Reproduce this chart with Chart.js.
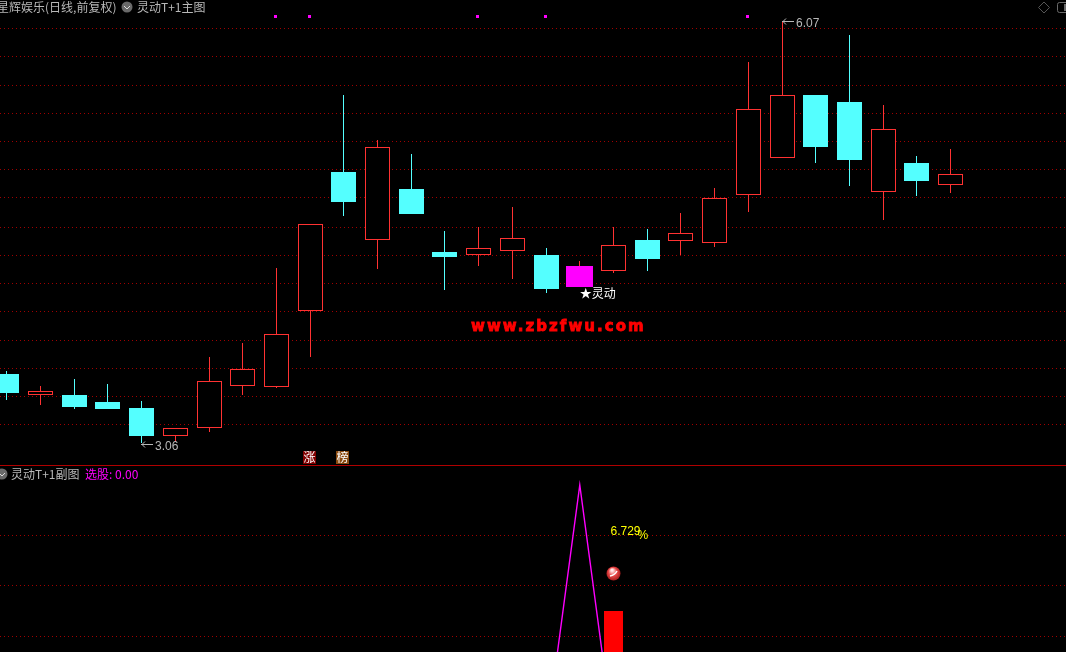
<!DOCTYPE html>
<html>
<head>
<meta charset="utf-8">
<title>灵动T+1</title>
<script src="https://cdn.jsdelivr.net/npm/chart.js@4"></script>
<style>
  html, body { margin: 0; padding: 0; background: #000; overflow: hidden; }
  body { width: 1066px; height: 652px; position: relative; font-family: "Noto Sans CJK SC", sans-serif; }
  #main-wrap { position: absolute; left: 0; top: 0; width: 1066px; height: 465px; }
  #sub-wrap { position: absolute; left: 0; top: 466px; width: 1066px; height: 186px; }
  #divider { position: absolute; left: 0; top: 465px; width: 1066px; height: 1px; background: #b00000; }
  .label { position: absolute; white-space: nowrap; font-size: 12px; line-height: 14px; color: #b8b8b8; }
  .icon { position: absolute; }
</style>
</head>
<body>
<div id="main-wrap"><canvas id="mainChart"></canvas></div>
<div id="divider"></div>
<div id="sub-wrap"><canvas id="subChart"></canvas></div>

<div class="label" style="left:-3px;top:0">星辉娱乐(日线,前复权)</div>
<svg class="icon" style="left:121px;top:1px" width="12" height="12"><circle cx="6" cy="6" r="5.5" fill="#6a6a6a"/><polyline points="3,5 6,8 9,5" fill="none" stroke="#ddd"/></svg>
<div class="label" style="left:137px;top:0">灵动T+1主图</div>
<svg class="icon" style="left:-4px;top:468px" width="12" height="12"><circle cx="6" cy="6" r="5.5" fill="#6a6a6a"/><polyline points="3,5 6,8 9,5" fill="none" stroke="#ddd"/></svg>
<div class="label" style="left:11px;top:467px">灵动T+1副图</div>
<div class="label" style="left:85px;top:467px;color:#ff00ff">选股: 0.00</div>
<svg class="icon" style="left:1038px;top:1px" width="28" height="13">
  <polygon points="6,1 11.5,6.5 6,12 0.5,6.5" fill="none" stroke="#555"/>
  <rect x="19.5" y="1.5" width="12" height="10" rx="2" fill="none" stroke="#6a6a6a"/>
  <rect x="26" y="3" width="3" height="7" fill="#6a6a6a"/>
</svg>

<script>
// === DATA ===
const openPrices  = [3.55,3.40,3.40,3.35,3.31,3.11,3.17,3.47,3.46,4.00,4.99,4.51,4.87,4.42,4.40,4.43,4.40,4.32,4.29,4.51,4.50,4.49,4.83,5.09,5.54,5.49,4.85,5.06,4.90];
const closePrices = [3.42,3.43,3.32,3.30,3.11,3.17,3.50,3.59,3.84,4.62,4.78,5.17,4.69,4.39,4.45,4.52,4.16,4.17,4.47,4.37,4.56,4.81,5.44,5.54,5.17,5.08,5.30,4.93,4.98];
const highPrices  = [3.57,3.47,3.52,3.48,3.36,3.17,3.67,3.77,4.31,4.62,5.54,5.22,5.12,4.57,4.60,4.74,4.45,4.36,4.60,4.59,4.70,4.88,5.78,6.07,5.54,5.97,5.47,5.11,5.16];
const lowPrices   = [3.37,3.33,3.30,3.30,3.06,3.07,3.14,3.40,3.45,3.67,4.68,4.30,4.69,4.15,4.32,4.23,4.13,4.17,4.27,4.29,4.40,4.46,4.71,5.09,5.06,4.89,4.65,4.82,4.84];
const signalBars  = [17];
const topMarks    = [8, 9, 14, 16, 22];
const topMarkPrice = 6.10;
const priceGrid   = [6.02,5.82,5.61,5.41,5.21,5.01,4.81,4.60,4.40,4.20,4.00,3.79,3.59,3.39,3.19];

const pickValues  = [0,0,0,0,0,0,0,0,0,0,0,0,0,0,0,0,0,1,0,0,0,0,0,0,0,0,0,0,0];
const gainBars    = [{ x: 18, y: [0, 0.5] }];
const ballPoints  = [{ x: 18, y: 0.65 }];
const subGrid     = [0.8, 0.6, 0.4];

const candleIdx = openPrices.map((_, i) => i);
const isSignal = i => signalBars.includes(i);
const isUp = i => closePrices[i] >= openPrices[i];
const plainIdx = candleIdx.filter(i => !isSignal(i));

const RED = "#ff3232";
const CYAN = "#54ffff";
const MAGENTA = "#ff00ff";
const GRID = "#a00000";

// shared x range so that both panes line up, candle 0 is cut by the left edge
const xRange = { type: "linear", min: -0.20175, max: 31.4256, display: false, offset: false };

function gridAxis(min, max, values) {
  return {
    min, max,
    position: "left",
    afterBuildTicks: axis => { axis.ticks = values.map(value => ({ value })); },
    ticks: { display: false },
    border: { display: false, dash: [1, 3] },
    grid: { color: GRID, lineWidth: 1, drawTicks: false }
  };
}

// ball marker for the sub pane
function makeBall() {
  const c = document.createElement("canvas");
  c.width = c.height = 15;
  const g = c.getContext("2d");
  const fill = g.createRadialGradient(6, 4, 1, 7.5, 7.5, 7.5);
  fill.addColorStop(0, "#ffe8e8");
  fill.addColorStop(0.5, "#e84848");
  fill.addColorStop(1, "#a01818");
  g.fillStyle = fill;
  g.beginPath();
  g.arc(7.5, 7.5, 7, 0, Math.PI * 2);
  g.fill();
  g.strokeStyle = "#fff";
  g.lineWidth = 1.5;
  g.beginPath();
  g.moveTo(4, 10);
  g.quadraticCurveTo(9, 9, 11, 5);
  g.stroke();
  return c;
}

// === PIXEL SNAP (keeps the 1px candle borders sharp) ===
const snapBars = {
  id: "snapBars",
  afterDatasetsUpdate(chart) {
    chart.data.datasets.forEach((ds, n) => {
      const meta = chart.getDatasetMeta(n);
      if (meta.type === "line") return;
      meta.data.forEach(el => {
        el.x = Math.floor(el.x) + 0.5;
        if (meta.type === "bar") {
          el.y = Math.round(el.y);
          el.base = Math.round(el.base);
          el.height = el.base - el.y;
        } else {
          if (ds.label === "marks") el.x -= 1; // marks sit one pixel left of the wick
          el.y = Math.floor(el.y) + 0.5;
        }
      });
    });
  }
};

// === TEXT ANNOTATIONS ===
const mainLabels = {
  id: "mainLabels",
  afterDatasetsDraw(chart) {
    const { ctx, scales: { x, y } } = chart;
    ctx.save();
    ctx.textBaseline = "middle";
    ctx.textAlign = "left";

    // highest and lowest price
    const hi = highPrices.indexOf(Math.max(...highPrices));
    const lo = lowPrices.indexOf(Math.min(...lowPrices));
    [[hi, highPrices[hi]], [lo, lowPrices[lo]]].forEach(([i, price]) => {
      const px = Math.floor(x.getPixelForValue(i));
      const py = Math.round(y.getPixelForValue(price)) + (i === hi ? 0 : 1);
      ctx.strokeStyle = "#b8b8b8";
      ctx.lineWidth = 1;
      ctx.beginPath();
      ctx.moveTo(px + 12, py + 0.5);
      ctx.lineTo(px, py + 0.5);
      ctx.moveTo(px + 4, py - 2.5);
      ctx.lineTo(px + 1, py + 0.5);
      ctx.lineTo(px + 4, py + 3.5);
      ctx.stroke();
      ctx.fillStyle = "#b8b8b8";
      ctx.font = '12px "Liberation Sans"';
      ctx.fillText(price.toFixed(2), px + 14, py + 3);
    });

    // signal text under the magenta candle
    signalBars.forEach(i => {
      ctx.fillStyle = "#ffffff";
      ctx.font = '12px "Noto Sans CJK SC"';
      ctx.fillText("★灵动", x.getPixelForValue(i), y.getPixelForValue(lowPrices[i]) + 6);
    });

    // badges near the bottom
    [[9, "涨", "#800000"], [10, "榜", "#8a4a10"]].forEach(([i, word, bg]) => {
      const px = Math.floor(x.getPixelForValue(i));
      ctx.fillStyle = bg;
      ctx.fillRect(px - 7, 451, 13, 13);
      ctx.fillStyle = "#ffffff";
      ctx.font = '12px "Noto Sans CJK SC"';
      ctx.textAlign = "center";
      ctx.fillText(word, px - 0.5, 457.5);
      ctx.textAlign = "left";
    });

    // watermark
    ctx.fillStyle = "#ff0000";
    ctx.strokeStyle = "#ff0000";
    ctx.lineWidth = 0.8;
    ctx.font = 'bold 15px "DejaVu Sans"';
    ctx.letterSpacing = "2.05px";
    ctx.fillText("www.zbzfwu.com", 471, 327);
    ctx.strokeText("www.zbzfwu.com", 471, 327);
    ctx.restore();
  }
};

const subLabels = {
  id: "subLabels",
  afterDatasetsDraw(chart) {
    const { ctx, scales: { x, y } } = chart;
    const px = x.getPixelForValue(18);
    const py = y.getPixelForValue(0.82);
    ctx.save();
    ctx.fillStyle = "#ffff00";
    ctx.textBaseline = "middle";
    ctx.font = '12px "Liberation Sans"';
    ctx.fillText("6.729", px - 3, py + 1);
    ctx.fillText("%", px + 24, py + 5);
    ctx.restore();
  }
};

// === MAIN PANE (candles) ===
new Chart(document.getElementById("mainChart"), {
  type: "bar",
  plugins: [snapBars, mainLabels],
  data: {
    datasets: [
      {
        label: "wick",
        order: 3,
        grouped: false,
        barThickness: 1,
        inflateAmount: 0,
        data: candleIdx.map(i => ({ x: i, y: [lowPrices[i], highPrices[i]] })),
        backgroundColor: candleIdx.map(i => isUp(i) || isSignal(i) ? RED : CYAN)
      },
      {
        label: "body",
        order: 2,
        grouped: false,
        barThickness: 25,
        inflateAmount: 0,
        data: plainIdx.map(i => ({ x: i, y: [openPrices[i], closePrices[i]] })),
        backgroundColor: plainIdx.map(i => isUp(i) ? "#000000" : CYAN),
        borderColor: plainIdx.map(i => isUp(i) ? RED : CYAN),
        borderWidth: 1,
        borderSkipped: false
      },
      {
        label: "signal",
        order: 1,
        grouped: false,
        barThickness: 27,
        inflateAmount: 0,
        data: signalBars.map(i => ({ x: i, y: [openPrices[i], closePrices[i]] })),
        backgroundColor: MAGENTA
      },
      {
        type: "scatter",
        label: "marks",
        order: 0,
        data: topMarks.map(i => ({ x: i, y: topMarkPrice })),
        pointStyle: "rect",
        pointRadius: 2.13,
        backgroundColor: MAGENTA,
        borderWidth: 0
      }
    ]
  },
  options: {
    responsive: true,
    maintainAspectRatio: false,
    animation: false,
    layout: { padding: 0, autoPadding: false },
    plugins: { legend: { display: false }, tooltip: { enabled: false } },
    scales: {
      x: xRange,
      y: gridAxis(2.903, 6.22, priceGrid)
    }
  }
});

// === SUB PANE (signal line) ===
new Chart(document.getElementById("subChart"), {
  type: "bar",
  plugins: [snapBars, subLabels],
  data: {
    datasets: [
      {
        label: "gain",
        order: 2,
        barThickness: 19,
        inflateAmount: 0,
        data: gainBars,
        backgroundColor: "#ff0000"
      },
      {
        type: "line",
        label: "选股",
        order: 1,
        data: candleIdx.map(i => ({ x: i, y: pickValues[i] })),
        borderColor: MAGENTA,
        borderWidth: 1.4,
        pointRadius: 0,
        tension: 0
      },
      {
        type: "scatter",
        label: "ball",
        order: 0,
        data: ballPoints,
        pointStyle: makeBall(),
        pointRadius: 7
      }
    ]
  },
  options: {
    responsive: true,
    maintainAspectRatio: false,
    animation: false,
    layout: { padding: 0, autoPadding: false },
    plugins: { legend: { display: false }, tooltip: { enabled: false } },
    scales: {
      x: xRange,
      y: gridAxis(0.3386, 1.0752, subGrid)
    }
  }
});
</script>
</body>
</html>
